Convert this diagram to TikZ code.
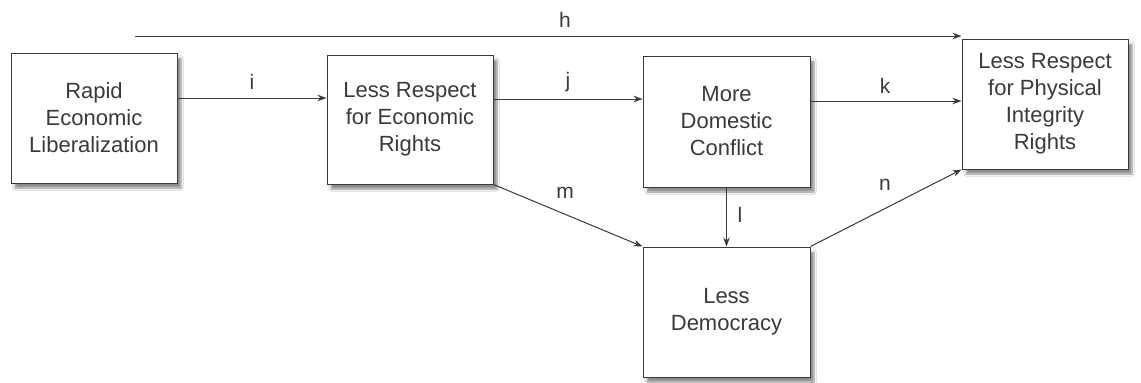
\documentclass[tikz,border=0pt]{standalone}
\usepackage{fontspec}
\setmainfont{Liberation Sans}
\usetikzlibrary{arrows.meta,shadows.blur}
\definecolor{ink}{HTML}{3A3A3A}
\tikzset{
  box/.style={draw=ink, line width=1pt, fill=white, rectangle, align=center,
    text=ink, font=\fontsize{22}{27}\selectfont,
    blur shadow={shadow xshift=4pt, shadow yshift=-5pt, shadow blur steps=6, shadow opacity=45}},
  arr/.style={draw=ink, line width=1pt, -{Stealth[length=9pt,width=6.5pt]}},
  lab/.style={text=ink, font=\fontsize{21}{24}\selectfont, inner sep=0pt}
}
\begin{document}
\begin{tikzpicture}[x=1pt,y=-1pt]
\useasboundingbox[fill=white] (0,0) rectangle (1141,383);
\node[box, minimum width=166pt, minimum height=130pt] (b1) at (94,118) {Rapid\\Economic\\Liberalization};
\node[box, minimum width=166pt, minimum height=129pt] (b2) at (410,119.5) {Less Respect\\for Economic\\Rights};
\node[box, minimum width=167pt, minimum height=131pt] (b3) at (726.5,121.5) {More\\Domestic\\Conflict};
\node[box, minimum width=166pt, minimum height=130pt] (b4) at (1045,104) {Less Respect\\for Physical\\Integrity\\Rights};
\node[box, minimum width=167pt, minimum height=130pt] (b5) at (726.5,312) {Less\\Democracy};
\coordinate (hs) at (135,36);
\coordinate (ia) at ([yshift=20pt]b1.east);
\coordinate (ja) at ([yshift=20.5pt]b2.east);
\coordinate (ka) at ([yshift=20.5pt]b3.east);
\draw[arr] (hs) -- (hs -| b4.west);
\draw[arr] (ia) -- (ia -| b2.west);
\draw[arr] (ja) -- (ja -| b3.west);
\draw[arr] (ka) -- (ka -| b4.west);
\draw[arr] (b2.south east) -- (b5.north west);
\draw[arr] (b3.south) -- (b5.north);
\draw[arr] (b5.north east) -- (b4.south west);
\node[lab] (lh) at (565,20) {h};
\node[lab] (li) at (252,82) {i};
\node[lab] (lj) at (568,82) {j};
\node[lab] (lk) at (885,86) {k};
\node[lab] (lm) at (565,193) {m};
\node[lab] (ll) at (740,215) {l};
\node[lab] (ln) at (885,185) {n};
\end{tikzpicture}
\end{document}
